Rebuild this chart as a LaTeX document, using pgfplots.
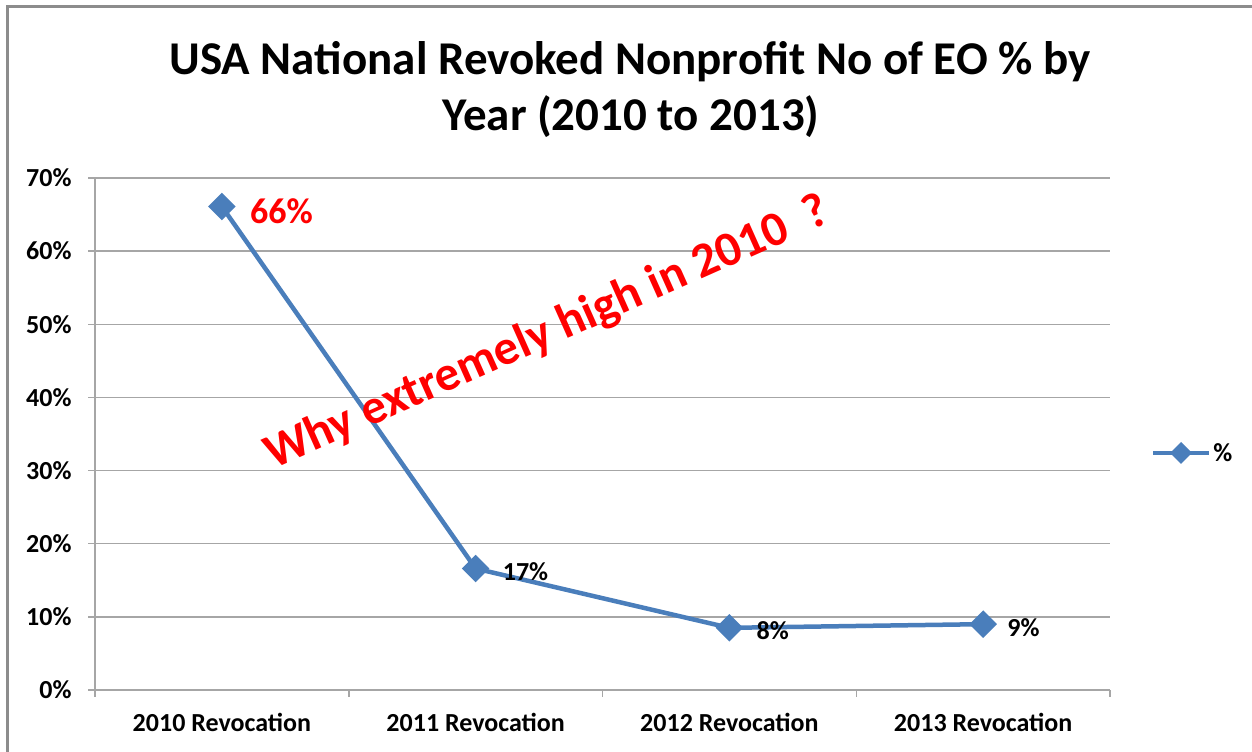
\documentclass[border=0pt]{standalone}
\usepackage{pgfplots}
\pgfplotsset{compat=1.18}
\usepackage{fontspec}
\setmainfont{Carlito}
\definecolor{xlblue}{HTML}{4A7EBB}
\definecolor{gridgray}{HTML}{A6A6A6}
\definecolor{framegray}{HTML}{8C8C8C}
\begin{document}
\begin{tikzpicture}[x=1bp,y=1bp]
\useasboundingbox (0,0) rectangle (1252,752);
\draw[framegray, line width=3bp] (7,0) -- (7,745) -- (1252,745);
\node[font=\fontsize{47bp}{57bp}\selectfont\bfseries, anchor=base, inner sep=0] at (630,677) {USA National Revoked Nonprofit No of EO \% by};
\node[font=\fontsize{47bp}{57bp}\selectfont\bfseries, anchor=base, inner sep=0] at (631,621) {Year (2010 to 2013)};
\begin{axis}[
  at={(95bp,62bp)}, anchor=south west,
  width=1015bp, height=512bp, scale only axis,
  xmin=-0.5, xmax=3.5, ymin=0, ymax=70,
  xtick={0,1,2,3},
  xticklabels={2010 Revocation,2011 Revocation,2012 Revocation,2013 Revocation},
  minor xtick={-0.5,0.5,1.5,2.5,3.5},
  ytick={0,10,20,30,40,50,60,70},
  yticklabels={0\%,10\%,20\%,30\%,40\%,50\%,60\%,70\%},
  ymajorgrids,
  grid style={gridgray, line width=1.5bp},
  axis lines=left,
  axis line style={gridgray, line width=1.5bp, -},
  tick align=outside,
  major tick length=7bp, minor tick length=7bp,
  tick style={gridgray, line width=1.5bp},
  major x tick style={draw=none},
  tick label style={font=\fontsize{26bp}{30bp}\selectfont\bfseries, text=black},
  yticklabel style={xshift=-13bp},
  xticklabel style={yshift=-13bp},
  legend style={at={(1.04,0.463)}, anchor=west, draw=none, fill=none, inner sep=0pt,
    font=\fontsize{26bp}{30bp}\selectfont\bfseries},
  legend image code/.code={\draw[mark repeat=2, mark phase=2, #1, mark size=5.5bp] plot coordinates {(0bp,0bp) (28bp,0bp) (56bp,0bp)};},
  clip=false,
]
\addplot[xlblue, line width=4.5bp, mark=square*, mark size=7.5bp, mark options={rotate=45, solid, fill=xlblue}]
  coordinates {(0,66.1) (1,16.6) (2,8.5) (3,9.0)};
\addlegendentry{\%}
\node[anchor=west, inner sep=0, text=red, font=\fontsize{36bp}{40bp}\selectfont\bfseries, xshift=28bp, yshift=-5bp] at (axis cs:0,66.1) {66\%};
\node[anchor=west, inner sep=0, font=\fontsize{26bp}{30bp}\selectfont\bfseries, xshift=27bp, yshift=-3bp] at (axis cs:1,16.6) {17\%};
\node[anchor=west, inner sep=0, font=\fontsize{26bp}{30bp}\selectfont\bfseries, xshift=27bp, yshift=-3bp] at (axis cs:2,8.5) {8\%};
\node[anchor=west, inner sep=0, font=\fontsize{26bp}{30bp}\selectfont\bfseries, xshift=24bp, yshift=-3bp] at (axis cs:3,9.0) {9\%};
\end{axis}
\node[anchor=base west, rotate=24, inner sep=0, text=red, font=\fontsize{49bp}{54bp}\selectfont\bfseries] at (273,282) {Why extremely high in 2010~~?};
\end{tikzpicture}
\end{document}
